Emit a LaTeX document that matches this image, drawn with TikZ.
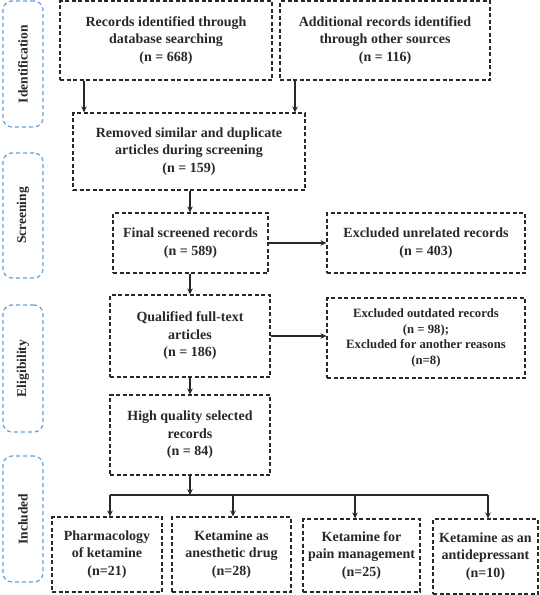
\documentclass[tikz,border=0pt]{standalone}
\usepackage{fontspec}
\setmainfont{Liberation Serif}
\usetikzlibrary{arrows.meta}
\definecolor{sideblue}{RGB}{100,160,220}
\definecolor{boxgray}{RGB}{40,40,40}
\tikzset{
  box/.style={draw=boxgray, line width=1.1pt, dash pattern=on 4pt off 2.5pt,
    align=center, inner sep=2pt, font=\bfseries\fontsize{14}{17.5}\selectfont, text=boxgray},
  side/.style={draw=sideblue, line width=1.2pt, dash pattern=on 4pt off 3pt,
    rounded corners=9pt, minimum width=40pt},
  sidetext/.style={rotate=90, font=\bfseries\fontsize{13.5}{14}\selectfont, text=boxgray},
  arr/.style={draw=boxgray, line width=1.1pt, -{Stealth[length=6pt,width=5.5pt]}},
  ln/.style={draw=boxgray, line width=1.1pt}
}
\begin{document}
\begin{tikzpicture}[x=1pt,y=-1pt]
\useasboundingbox (0,0) rectangle (539,595);
% side labels
\node[side, minimum height=126pt] (sid) at (23,64) {};
\node[sidetext] (tid) at (sid.center) {Identification};
\node[side, minimum height=125pt] (ssc) at (23,215.5) {};
\node[sidetext] (tsc) at (ssc.center) {Screening};
\node[side, minimum height=127pt] (sel) at (23,368.5) {};
\node[sidetext] (tel) at (sel.center) {Eligibility};
\node[side, minimum height=126pt] (sin) at (23,519) {};
\node[sidetext] (tin) at (sin.center) {Included};
% main boxes
\node[box, minimum width=212pt, minimum height=79pt] (b1) at (166,40.5) {Records identified through\\database searching\\(n = 668)};
\node[box, minimum width=210pt, minimum height=79pt] (b2) at (385,40.5) {Additional records identified\\through other sources\\(n = 116)};
\node[box, minimum width=232pt, minimum height=77pt] (b3) at (189,151.5) {Removed similar and duplicate\\articles during screening\\(n = 159)};
\node[box, minimum width=155pt, minimum height=60pt] (b4) at (190.5,243) {Final screened records\\(n = 589)};
\node[box, minimum width=198pt, minimum height=60pt] (b5) at (426,243) {Excluded unrelated records\\(n = 403)};
\node[box, minimum width=160pt, minimum height=82pt] (b6) at (190,336) {Qualified full-text\\articles\\(n = 186)};
\node[box, minimum width=198pt, minimum height=80pt, font=\bfseries\fontsize{12.7}{15.5}\selectfont] (b7) at (426,338) {Excluded outdated records\\(n = 98);\\Excluded for another reasons\\(n=8)};
\node[box, minimum width=160pt, minimum height=80pt] (b8) at (190,435) {High quality selected\\records\\(n = 84)};
\node[box, minimum width=110pt, minimum height=75pt] (c1) at (107,554.5) {Pharmacology\\of ketamine\\(n=21)};
\node[box, minimum width=119pt, minimum height=75pt] (c2) at (231.5,554.5) {Ketamine as\\anesthetic drug\\(n=28)};
\node[box, minimum width=117pt, minimum height=73pt] (c3) at (361.5,555.5) {Ketamine for\\pain management\\(n=25)};
\node[box, minimum width=105pt, minimum height=75pt] (c4) at (485.5,556.5) {Ketamine as an\\antidepressant\\(n=10)};
% helper coordinates
\coordinate (xa) at (84,0);
\coordinate (xb) at (295,0);
\coordinate (xm) at (190,0);
\coordinate (j) at (190,495);
\coordinate (j1) at (110,495);
\coordinate (j2) at (233,495);
\coordinate (j3) at (355,495);
\coordinate (j4) at (488,495);
% connectors
\draw[arr] (b1.south -| xa) -- (b3.north -| xa);
\draw[arr] (b2.south -| xb) -- (b3.north -| xb);
\draw[arr] (b3.south -| xm) -- (b4.north -| xm);
\draw[arr] (b4.east) -- (b4.east -| b5.west);
\draw[arr] (b4.south -| xm) -- (b6.north -| xm);
\draw[arr] (b6.east) -- (b6.east -| b7.west);
\draw[arr] (b6.south -| xm) -- (b8.north -| xm);
\draw[arr] (b8.south -| xm) -- (j);
\draw[ln] (j1) -- (j4);
\draw[arr] (j1) -- (c1.north -| j1);
\draw[arr] (j2) -- (c2.north -| j2);
\draw[arr] (j3) -- (c3.north -| j3);
\draw[arr] (j4) -- (c4.north -| j4);
\end{tikzpicture}
\end{document}
